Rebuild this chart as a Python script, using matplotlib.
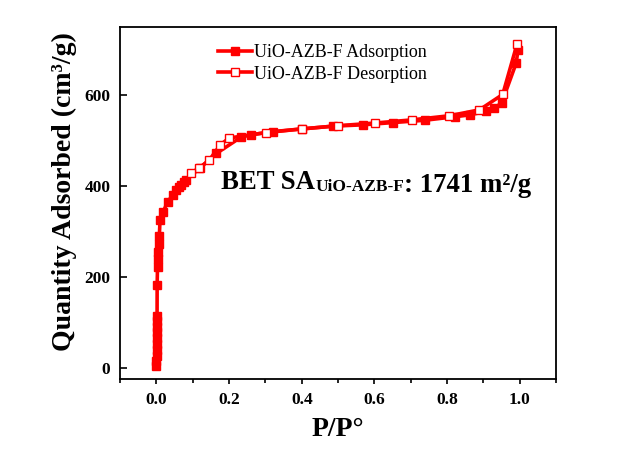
import matplotlib
matplotlib.use("Agg")
import matplotlib.pyplot as plt
from matplotlib.ticker import MultipleLocator

plt.rcParams["font.family"] = ["Liberation Serif", "DejaVu Serif"]

# adsorption branch (filled squares)
ads_p = [0.0000, 0.0002, 0.0004, 0.0006, 0.0008, 0.0010, 0.0012, 0.0014, 0.0016, 0.0018,
         0.002, 0.003, 0.004, 0.005, 0.006, 0.008, 0.010, 0.019, 0.031, 0.045,
         0.054, 0.061, 0.068, 0.075, 0.082, 0.12, 0.165, 0.233, 0.26, 0.32,
         0.40, 0.485, 0.568, 0.652, 0.738, 0.823, 0.864, 0.908, 0.93, 0.95,
         0.99, 0.995]
ads_q = [5, 15, 27, 40, 52, 65, 78, 90, 103, 115,
         183, 222, 240, 256, 272, 290, 326, 344, 366, 380,
         392, 398, 403, 409, 414, 440, 472, 508, 513, 520,
         526, 532, 535, 540, 545, 553, 557, 565, 572, 583,
         671, 700]

# desorption branch (open squares)
des_p = [0.992, 0.953, 0.889, 0.806, 0.704, 0.602, 0.499, 0.401, 0.302, 0.200,
         0.176, 0.146, 0.118, 0.095]
des_q = [712, 602, 568, 555, 546, 539, 533, 526, 518, 506,
         491, 458, 440, 429]

fig = plt.figure(figsize=(6.32, 4.53), dpi=100)
ax = fig.add_axes([0.190, 0.163, 0.690, 0.777])

ax.plot(ads_p, ads_q, color="#ff0000", lw=2.6, marker="s", ms=5.8,
        mfc="#ff0000", mec="#ff0000", label="UiO-AZB-F Adsorption")
ax.plot(des_p, des_q, color="#ff0000", lw=2.6, marker="s", ms=6.2,
        mfc="white", mec="#ff0000", mew=1, label="UiO-AZB-F Desorption")

ax.set_xlim(-0.1, 1.1)
ax.set_ylim(-25, 750)
ax.set_xticks([0.0, 0.2, 0.4, 0.6, 0.8, 1.0])
ax.xaxis.set_minor_locator(MultipleLocator(0.1))
ax.set_yticks([0, 200, 400, 600])

ax.tick_params(axis="x", which="major", direction="out", length=3.5, width=1.2,
               pad=6, labelsize=12.5)
ax.tick_params(axis="x", which="minor", direction="out", length=3.2, width=1.2)
ax.tick_params(axis="y", direction="in", length=5, width=1.2, pad=7, labelsize=12.5)
for lab in ax.get_xticklabels() + ax.get_yticklabels():
    lab.set_fontweight("bold")
for sp in ax.spines.values():
    sp.set_linewidth(1.3)

ax.set_xlabel("P/P°", fontsize=20, fontweight="bold", labelpad=6)
ax.set_ylabel("Quantity Adsorbed (cm³/g)", fontsize=20, fontweight="bold")
ax.yaxis.set_label_coords(-0.098, 0.533)

ax.legend(loc="upper left", bbox_to_anchor=(0.225, 0.952), frameon=False,
          fontsize=13, handlelength=1.85, handletextpad=0.15, labelspacing=0.25,
          borderpad=0, borderaxespad=0)

t1 = ax.text(0.178, 393, "BET SA", fontsize=19.3, fontweight="bold", va="baseline")
t2 = ax.annotate("UiO-AZB-F", xy=(1, 0), xycoords=t1, fontsize=12.5,
                 fontweight="bold", va="bottom")
ax.annotate(": 1741 m²/g", xy=(1, 0), xycoords=t2, xytext=(0, -2),
            textcoords="offset points", fontsize=19.3, fontweight="bold", va="bottom")

fig.savefig("out.png", dpi=100)
